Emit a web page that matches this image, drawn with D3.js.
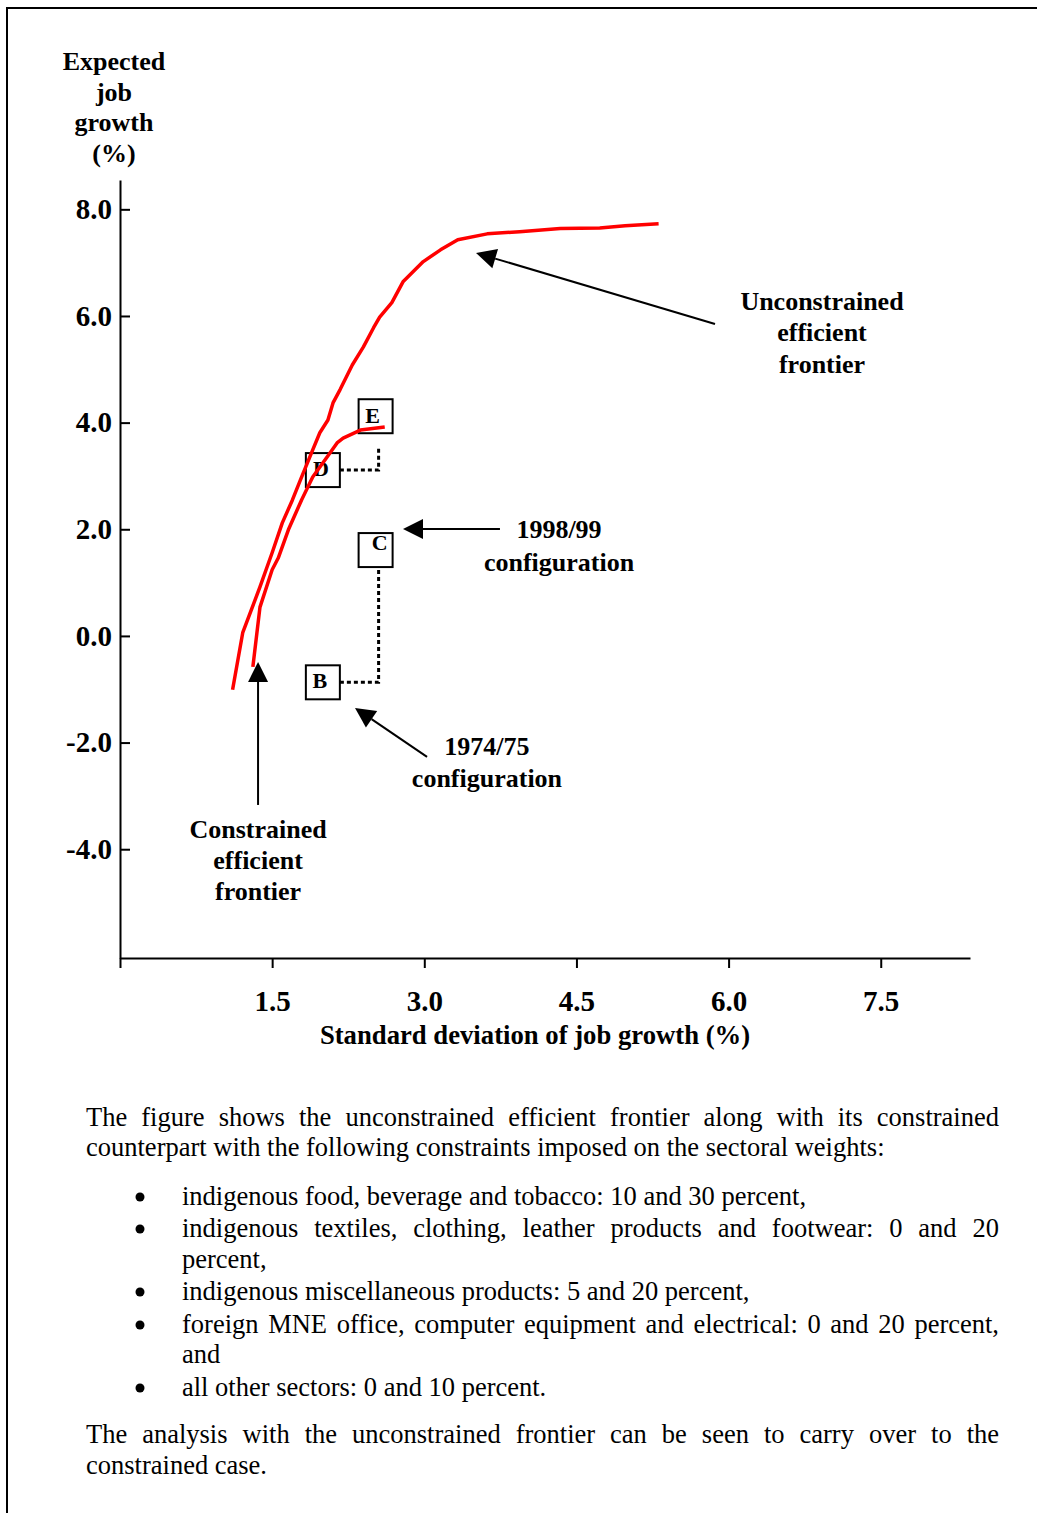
<!DOCTYPE html>
<html>
<head>
<meta charset="utf-8">
<script src="https://cdn.jsdelivr.net/npm/d3@7"></script>
<style>
  body { margin: 0; background: #fff; }
  svg { display: block; }
</style>
</head>
<body>
<script>
// Efficient frontiers of expected job growth against its standard deviation (%)

// Unconstrained efficient frontier
const unconstrainedSd   = [1.11, 1.21, 1.38, 1.50, 1.60, 1.70, 1.78, 1.90, 1.97, 2.05, 2.10, 2.17, 2.29, 2.40, 2.50, 2.56, 2.68, 2.79, 2.99, 3.16, 3.33, 3.62, 3.94, 4.34, 4.73, 4.98, 5.31];
const unconstrainedMean = [-1.01, 0.06, 0.92, 1.56, 2.12, 2.55, 2.93, 3.49, 3.81, 4.05, 4.37, 4.62, 5.08, 5.42, 5.78, 5.98, 6.25, 6.64, 7.02, 7.24, 7.43, 7.54, 7.58, 7.64, 7.65, 7.69, 7.73];

// Constrained efficient frontier
const constrainedSd   = [1.31, 1.38, 1.50, 1.56, 1.66, 1.79, 1.90, 2.07, 2.14, 2.20, 2.37, 2.61];
const constrainedMean = [-0.58, 0.54, 1.24, 1.46, 1.99, 2.55, 2.98, 3.43, 3.62, 3.71, 3.86, 3.92];

// Sectoral configurations
const configNames = ["B", "C", "D", "E"];
const configSd    = [2.00, 2.52, 2.00, 2.52];
const configMean  = [-0.87, 1.61, 3.11, 4.12];

// Axis ticks
const xTicks = [0, 1.5, 3.0, 4.5, 6.0, 7.5];
const yTicks = [-4, -2, 0, 2, 4, 6, 8];
const yTitleLines = ["Expected", "job", "growth", "(%)"];
const xTitle = "Standard deviation of job growth (%)";

// Paragraph text below the chart
const introLines = [
  "The figure shows the unconstrained efficient frontier along with its constrained",
  "counterpart with the following constraints imposed on the sectoral weights:"
];
const bulletItems = [
  ["indigenous food, beverage and tobacco: 10 and 30 percent,"],
  ["indigenous textiles, clothing, leather products and footwear: 0 and 20", "percent,"],
  ["indigenous miscellaneous products: 5 and 20 percent,"],
  ["foreign MNE office, computer equipment and electrical: 0 and 20 percent,", "and"],
  ["all other sectors: 0 and 10 percent."]
];
const closingLines = [
  "The analysis with the unconstrained frontier can be seen to carry over to the",
  "constrained case."
];

const W = 1037, H = 1513;
const serif = "'Liberation Serif', 'Times New Roman', Times, serif";

const svg = d3.select("body").append("svg")
  .attr("width", W).attr("height", H)
  .attr("viewBox", `0 0 ${W} ${H}`);

// page frame (top and left rules)
svg.append("line").attr("x1", 7).attr("x2", W).attr("y1", 8).attr("y2", 8)
  .attr("stroke", "#000").attr("stroke-width", 2);
svg.append("line").attr("x1", 7).attr("x2", 7).attr("y1", 7).attr("y2", H)
  .attr("stroke", "#000").attr("stroke-width", 2);

const x = d3.scaleLinear().domain([0, 8.38]).range([120, 970]);
const y = d3.scaleLinear().domain([-6.04, 8.55]).range([958, 180]);

// axes
const yAxis = svg.append("g").attr("transform", `translate(${x(0)},0)`)
  .call(d3.axisLeft(y).tickValues(yTicks).tickSizeInner(-10).tickSizeOuter(0)
    .tickPadding(8).tickFormat(d => d.toFixed(1)));
const xAxis = svg.append("g").attr("transform", `translate(0,${y.range()[0]})`)
  .call(d3.axisBottom(x).tickValues(xTicks).tickSizeInner(10).tickSizeOuter(0)
    .tickPadding(22).tickFormat(d => d === 0 ? "" : d.toFixed(1)));

[yAxis, xAxis].forEach(a => {
  a.selectAll("path.domain").attr("stroke", "#000").attr("stroke-width", 2);
  a.selectAll(".tick line").attr("stroke", "#000").attr("stroke-width", 2);
  a.selectAll(".tick text").attr("fill", "#000")
    .style("font-family", serif).style("font-weight", "bold").style("font-size", "29px");
});

// axis titles
const boldText = (g) => g.attr("font-family", serif).attr("font-weight", "bold")
  .attr("font-size", 26).attr("fill", "#000").attr("text-anchor", "middle");

svg.append("g").call(boldText).selectAll("text")
  .data(yTitleLines).join("text")
  .attr("x", 114).attr("y", (d, i) => 70 + i * 30.5).text(d => d);

svg.append("text").call(boldText).attr("font-size", 26.7)
  .attr("x", 535).attr("y", 1044).text(xTitle);

// configuration boxes and dotted links
const configs = configNames.map((n, i) => ({ name: n, sd: configSd[i], mean: configMean[i] }));
const byName = Object.fromEntries(configs.map(c => [c.name, c]));
const box = 34;
const letterShift = { B: [-3, 6], C: [4, 0], D: [-2, 6], E: [-3, 7] };

const links = [["B", "C", 0], ["D", "E", 14]];
const gLinks = svg.append("g");
links.forEach(([a, b, gap]) => {
  const p = byName[a], q = byName[b];
  const x0 = x(p.sd) + box / 2, y0 = y(p.mean);
  const xc = x(q.sd) + 3;
  const y1 = y(q.mean) + box / 2 + gap;
  gLinks.append("path")
    .attr("d", `M${x0},${y0}H${xc}V${y1}`)
    .attr("fill", "none").attr("stroke", "#000").attr("stroke-width", 3)
    .attr("stroke-dasharray", "4,3");
});

const gBoxes = svg.append("g");
gBoxes.selectAll("rect").data(configs).join("rect")
  .attr("x", d => x(d.sd) - box / 2).attr("y", d => y(d.mean) - box / 2)
  .attr("width", box).attr("height", box)
  .attr("fill", "none").attr("stroke", "#000").attr("stroke-width", 2);
gBoxes.selectAll("text").data(configs).join("text")
  .attr("font-family", serif).attr("font-weight", "bold").attr("font-size", 22)
  .attr("text-anchor", "middle")
  .attr("x", d => x(d.sd) + letterShift[d.name][0])
  .attr("y", d => y(d.mean) + letterShift[d.name][1])
  .text(d => d.name);

// frontier curves
const line = d3.line().x(d => x(d[0])).y(d => y(d[1]));
const frontiers = [
  d3.zip(unconstrainedSd, unconstrainedMean),
  d3.zip(constrainedSd, constrainedMean)
];
svg.append("g").selectAll("path").data(frontiers).join("path")
  .attr("d", line).attr("fill", "none").attr("stroke", "#ff0000")
  .attr("stroke-width", 3.5).attr("stroke-linejoin", "round");

// annotation arrows (tail -> tip, in data units)
const arrows = [
  { tail: [5.866, 5.851], tip: [3.510, 7.183] },
  { tail: [3.746, 2.007], tip: [2.790, 2.007] },
  { tail: [3.027, -2.269], tip: [2.317, -1.350] },
  { tail: [1.361, -3.170], tip: [1.361, -0.488] }
];
const gArrows = svg.append("g");
arrows.forEach(a => {
  const tx = x(a.tail[0]), ty = y(a.tail[1]);
  const hx = x(a.tip[0]), hy = y(a.tip[1]);
  const ang = Math.atan2(hy - ty, hx - tx);
  const len = 20, half = 10;
  const bx = hx - len * Math.cos(ang), by = hy - len * Math.sin(ang);
  gArrows.append("line").attr("x1", tx).attr("y1", ty).attr("x2", bx).attr("y2", by)
    .attr("stroke", "#000").attr("stroke-width", 2);
  const px = -Math.sin(ang) * half, py = Math.cos(ang) * half;
  gArrows.append("path")
    .attr("d", `M${hx},${hy}L${bx + px},${by + py}L${bx - px},${by - py}Z`)
    .attr("fill", "#000");
});

// annotation labels
const labels = [
  { at: [6.921, 6.114], lh: 31.5, lines: ["Unconstrained", "efficient", "frontier"] },
  { at: [4.328, 1.838], lh: 33, lines: ["1998/99", "configuration"] },
  { at: [3.618, -2.232], lh: 32, lines: ["1974/75", "configuration"] },
  { at: [1.361, -3.788], lh: 31, lines: ["Constrained", "efficient", "frontier"] }
];
labels.forEach(l => {
  svg.append("g").call(boldText).selectAll("text").data(l.lines).join("text")
    .attr("x", x(l.at[0])).attr("y", (d, i) => y(l.at[1]) + i * l.lh).text(d => d);
});

// body text, with justified full lines
const body = svg.append("g").attr("font-family", serif).attr("font-size", 26.5).attr("fill", "#000");
function textLine(str, x0, x1, yy, justify) {
  if (!justify) {
    body.append("text").attr("x", x0).attr("y", yy).text(str);
    return;
  }
  const words = str.split(" ");
  const nodes = words.map(w => body.append("text").attr("y", yy).text(w));
  const widths = nodes.map(n => n.node().getComputedTextLength());
  const gap = (x1 - x0 - d3.sum(widths)) / (words.length - 1);
  let cx = x0;
  nodes.forEach((n, i) => { n.attr("x", cx); cx += widths[i] + gap; });
}

const leftX = 86, rightX = 999, bulletTextX = 182, bulletX = 140;
textLine(introLines[0], leftX, rightX, 1126, true);
textLine(introLines[1], leftX, rightX, 1156, false);

const bulletBaselines = [[1205], [1237, 1268], [1300], [1333, 1363], [1396]];
bulletItems.forEach((item, i) => {
  body.append("circle").attr("cx", bulletX).attr("cy", bulletBaselines[i][0] - 8).attr("r", 4.5);
  item.forEach((ln, j) => {
    textLine(ln, bulletTextX, rightX, bulletBaselines[i][j], j < item.length - 1);
  });
});

textLine(closingLines[0], leftX, rightX, 1443, true);
textLine(closingLines[1], leftX, rightX, 1474, false);
</script>
</body>
</html>
